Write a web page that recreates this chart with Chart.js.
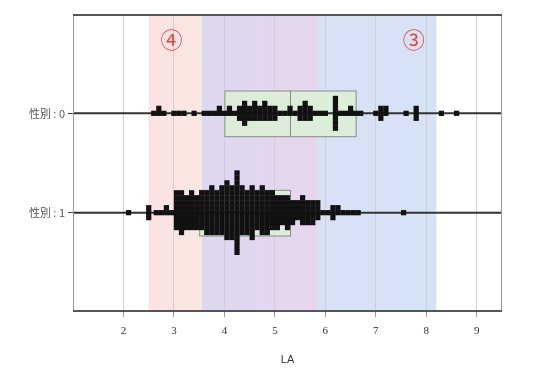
<!DOCTYPE html>
<html>
<head>
<meta charset="utf-8">
<script src="https://cdn.jsdelivr.net/npm/chart.js@4"></script>
<style>
  body { margin: 0; background: #fff; }
</style>
</head>
<body>
<canvas id="chart" width="533" height="369"></canvas>
<script>
const groups = ["性別 : 0", "性別 : 1"];
const xTicks = [2, 3, 4, 5, 6, 7, 8, 9];

// LA values (binned) and the number of cases in each bin
const sex0Values = [2.6, 2.7, 2.8, 3.0, 3.1, 3.2, 3.4, 3.6, 3.7, 3.8, 3.9, 4.0, 4.1, 4.2, 4.3, 4.4, 4.5, 4.6, 4.7, 4.8, 4.9, 5.0, 5.1, 5.2, 5.3, 5.4, 5.5, 5.6, 5.7, 5.8, 5.9, 6.0, 6.2, 6.3, 6.4, 6.5, 6.6, 6.7, 7.0, 7.1, 7.2, 7.6, 7.8, 8.3, 8.6];
const sex0Counts = [1, 2, 1, 1, 1, 1, 1, 1, 1, 1, 2, 1, 2, 1, 3, 5, 3, 4, 3, 4, 3, 3, 1, 1, 2, 1, 3, 4, 3, 1, 1, 1, 7, 1, 1, 2, 1, 1, 1, 3, 2, 1, 3, 1, 1];

const sex1Values = [2.1, 2.5, 2.65, 2.75, 2.85, 2.95, 3.05, 3.15, 3.25, 3.35, 3.45, 3.55, 3.65, 3.75, 3.85, 3.95, 4.05, 4.15, 4.25, 4.35, 4.45, 4.55, 4.65, 4.75, 4.85, 4.95, 5.05, 5.15, 5.25, 5.35, 5.45, 5.55, 5.65, 5.75, 5.85, 5.95, 6.05, 6.15, 6.25, 6.35, 6.45, 6.55, 6.65, 7.55];
const sex1Counts = [1, 3, 1, 1, 2, 1, 8, 9, 7, 8, 7, 8, 9, 10, 9, 10, 12, 11, 17, 10, 9, 11, 8, 10, 9, 8, 7, 6, 7, 5, 4, 6, 5, 5, 4, 1, 1, 3, 2, 1, 1, 1, 1, 1];

// box summaries per group: Q1, median, Q3
const boxQ1 = [4.0, 3.5];
const boxMedian = [5.3, 4.3];
const boxQ3 = [6.6, 5.3];

// shaded ranges ④ and ③
const bandFrom = [2.5, 3.55];
const bandTo = [5.85, 8.2];
const bandLabels = ["④", "③"];

const STEP = 0.05;

function swarm(values, counts, row) {
  const pts = [];
  values.forEach((v, i) => {
    for (let k = 0; k < counts[i]; k++) {
      const off = k === 0 ? 0 : (k % 2 ? -Math.ceil(k / 2) : k / 2);
      pts.push({ x: v, y: row + off * STEP });
    }
  });
  return pts;
}

function shade(ctx, a, x0, x1, c0, c1) {
  const g = ctx.createLinearGradient(x0, 0, x1, 0);
  g.addColorStop(0, c0);
  g.addColorStop(1, c1);
  ctx.fillStyle = g;
  ctx.fillRect(x0, a.top, x1 - x0, a.bottom - a.top);
}

const decor = {
  id: "decor",
  beforeDraw(chart) {
    const { ctx, chartArea: a, scales: { x } } = chart;
    const p = v => x.getPixelForValue(v);
    ctx.save();
    // ④ only, overlap of both, ③ only
    shade(ctx, a, p(bandFrom[0]), p(bandFrom[1]), "#fbe2e5", "#fbe8e0");
    shade(ctx, a, p(bandFrom[1]), p(bandTo[0]), "#ddd8f1", "#e6d6ec");
    shade(ctx, a, p(bandTo[0]), p(bandTo[1]), "#d8e2f6", "#d6e2f5");
    ctx.restore();
  },
  beforeDatasetsDraw(chart) {
    const { ctx, chartArea: a, scales: { x, y } } = chart;
    ctx.save();
    groups.forEach((g, i) => {
      const x0 = x.getPixelForValue(boxQ1[i]), x1 = x.getPixelForValue(boxQ3[i]);
      const y0 = y.getPixelForValue(i - 0.23), y1 = y.getPixelForValue(i + 0.23);
      ctx.fillStyle = "rgba(218,240,214,0.9)";
      ctx.fillRect(x0, y0, x1 - x0, y1 - y0);
      ctx.strokeStyle = "#8a8a8a";
      ctx.lineWidth = 1;
      ctx.strokeRect(x0 + 0.5, y0 + 0.5, x1 - x0, y1 - y0);
      const xm = Math.round(x.getPixelForValue(boxMedian[i])) + 0.5;
      ctx.beginPath();
      ctx.moveTo(xm, y0);
      ctx.lineTo(xm, y1);
      ctx.stroke();
      // row line
      const yr = y.getPixelForValue(i);
      ctx.strokeStyle = "#333";
      ctx.lineWidth = 2;
      ctx.beginPath();
      ctx.moveTo(a.left, yr);
      ctx.lineTo(a.right, yr);
      ctx.stroke();
    });
    ctx.restore();
  },
  afterDatasetsDraw(chart) {
    const { ctx, chartArea: a, scales: { x, y } } = chart;
    ctx.save();
    ctx.strokeStyle = "#999";
    ctx.lineWidth = 1;
    ctx.beginPath();
    ctx.moveTo(a.left + 0.5, a.top);
    ctx.lineTo(a.left + 0.5, a.bottom);
    ctx.moveTo(a.right - 0.5, a.top);
    ctx.lineTo(a.right - 0.5, a.bottom);
    ctx.stroke();
    ctx.strokeStyle = "#555";
    ctx.lineWidth = 2;
    ctx.beginPath();
    ctx.moveTo(a.left, a.top + 1);
    ctx.lineTo(a.right, a.top + 1);
    ctx.moveTo(a.left, a.bottom - 1);
    ctx.lineTo(a.right, a.bottom - 1);
    ctx.stroke();
    // circled range labels
    ctx.fillStyle = "#e5423a";
    ctx.font = "22px 'Noto Sans CJK JP'";
    ctx.textAlign = "center";
    ctx.textBaseline = "middle";
    const lx = [2.95, 7.75];
    bandLabels.forEach((t, i) => {
      ctx.fillText(t, x.getPixelForValue(lx[i]), y.getPixelForValue(-0.74));
    });
    ctx.restore();
  }
};

new Chart(document.getElementById("chart"), {
  type: "scatter",
  data: {
    datasets: [
      { data: swarm(sex0Values, sex0Counts, 0) },
      { data: swarm(sex1Values, sex1Counts, 1) }
    ]
  },
  options: {
    responsive: false,
    animation: false,
    layout: { padding: { top: 14, right: 31, left: 0, bottom: 0 } },
    elements: {
      point: { pointStyle: "rect", radius: 3.7, backgroundColor: "#111", borderWidth: 0 }
    },
    plugins: { legend: { display: false }, tooltip: { enabled: false } },
    scales: {
      x: {
        type: "linear",
        min: 1.0,
        max: 9.5,
        afterBuildTicks: s => { s.ticks = xTicks.map(v => ({ value: v })); },
        afterFit: s => { s.height = 57; },
        grid: { color: "#cfcfcf", tickColor: "#999", tickLength: 5 },
        border: { display: false },
        ticks: { color: "#333", padding: 8, font: { family: "'Liberation Serif'", size: 11 } },
        title: {
          display: true, text: "LA", color: "#333",
          font: { family: "'Liberation Sans'", size: 11 },
          padding: { top: 0, bottom: 2 }
        }
      },
      y: {
        type: "linear",
        min: -1,
        max: 2,
        reverse: true,
        afterBuildTicks: s => { s.ticks = groups.map((g, i) => ({ value: i })); },
        afterFit: s => { s.width = 73; },
        grid: { drawOnChartArea: false, tickColor: "#444", tickLength: 5 },
        border: { display: false },
        ticks: {
          color: "#555", padding: 3,
          font: { family: "'Noto Sans CJK JP'", size: 11 },
          callback: v => groups[v]
        }
      }
    }
  },
  plugins: [decor]
});
</script>
</body>
</html>
